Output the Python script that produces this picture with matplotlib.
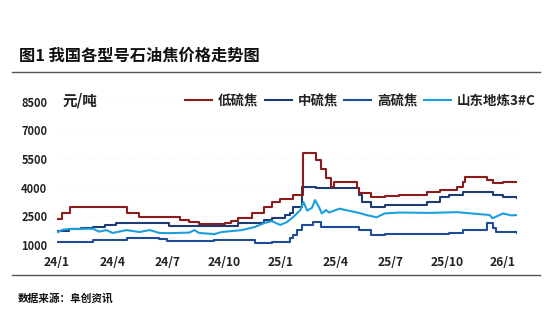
import matplotlib.pyplot as plt
import matplotlib.lines as mlines
import pandas as pd

# ── 字体 ─────────────────────────────────────────────
plt.rcParams['font.family'] = ['Noto Sans CJK SC', 'DejaVu Sans']
plt.rcParams['axes.unicode_minus'] = False

# ── 数据（从原图估读，单位：元/吨）──────────────────────
low_dates = ['2024-01-01', '2024-01-09', '2024-01-22', '2024-04-24', '2024-05-15',
             '2024-07-20', '2024-08-05', '2024-08-21', '2024-10-02', '2024-10-13',
             '2024-10-23', '2024-11-15', '2024-12-06', '2024-12-18', '2025-01-01',
             '2025-01-22', '2025-02-08', '2025-03-01', '2025-03-09', '2025-03-17',
             '2025-03-25', '2025-03-30', '2025-05-02', '2025-05-07', '2025-05-10',
             '2025-05-30', '2025-06-21', '2025-07-15', '2025-08-29', '2025-09-19',
             '2025-10-17', '2025-10-27', '2025-10-30', '2025-12-06', '2025-12-15',
             '2026-01-01', '2026-01-24']
low_vals = [2350, 2650, 3000, 2700, 2450,
            2300, 2200, 2100, 2150, 2250,
            2400, 2650, 3000, 3250, 3400,
            3600, 5800, 5450, 5000, 4500,
            4050, 4300, 4300, 4000, 3700,
            3500, 3550, 3600, 3750, 3900,
            4050, 4300, 4550, 4400, 4250,
            4300, 4300]

mid_dates = ['2024-01-01', '2024-01-20', '2024-02-10', '2024-02-29', '2024-03-20',
             '2024-04-07', '2024-07-03', '2024-10-23', '2024-12-06', '2024-12-18',
             '2025-01-09', '2025-01-17', '2025-01-22', '2025-02-06', '2025-03-01',
             '2025-05-02', '2025-05-10', '2025-05-15', '2025-05-30', '2025-06-21',
             '2025-08-29', '2025-09-19', '2025-10-05', '2025-10-27', '2025-12-06',
             '2025-12-15', '2026-01-01', '2026-01-24']
mid_vals = [1750, 1820, 1880, 1950, 2050,
            2150, 2000, 2150, 2300, 2400,
            2550, 2650, 3000, 4050, 4000,
            4000, 3600, 3250, 3000, 3100,
            3250, 3500, 3600, 3770, 3770,
            3600, 3500, 3450]

high_dates = ['2024-01-01', '2024-02-29', '2024-04-24', '2024-06-17', '2024-06-30',
              '2024-09-15', '2024-11-20', '2024-12-18', '2025-01-17', '2025-01-22',
              '2025-01-29', '2025-02-06', '2025-02-24', '2025-03-09', '2025-05-07',
              '2025-05-10', '2025-05-30', '2025-06-21', '2025-08-29', '2025-10-05',
              '2025-10-27', '2025-12-06', '2025-12-15', '2025-12-21', '2026-01-24']
high_vals = [1180, 1260, 1380, 1300, 1200,
             1250, 1100, 1160, 1370, 1520,
             1780, 2050, 2200, 1950, 1950,
             1780, 1520, 1580, 1560, 1630,
             1780, 2150, 1900, 1680, 1650]

sd_dates = ['2024-01-01', '2024-01-10', '2024-01-22', '2024-02-29', '2024-03-10',
            '2024-03-22', '2024-04-01', '2024-04-24', '2024-05-15', '2024-06-01',
            '2024-06-17', '2024-07-03', '2024-08-05', '2024-08-13', '2024-08-21',
            '2024-09-15', '2024-09-27', '2024-10-30', '2024-11-20', '2024-12-06',
            '2024-12-18', '2025-01-01', '2025-01-12', '2025-01-22', '2025-02-03',
            '2025-02-08', '2025-02-14', '2025-02-22', '2025-02-27', '2025-03-06',
            '2025-03-10', '2025-03-17', '2025-03-22', '2025-04-08', '2025-05-10',
            '2025-05-22', '2025-06-08', '2025-06-21', '2025-07-15', '2025-09-03',
            '2025-10-17', '2025-12-10', '2025-12-15', '2026-01-01', '2026-01-15',
            '2026-01-24']
sd_vals = [1650, 1800, 1840, 1850, 1700,
           1780, 1630, 1780, 1680, 1780,
           1630, 1620, 1650, 1780, 1630,
           1570, 1680, 1780, 1940, 2150,
           2250, 2050, 2200, 2460, 2830,
           3250, 2800, 2950, 3350, 2950,
           2650, 2830, 2700, 2900, 2680,
           2570, 2450, 2650, 2700, 2680,
           2720, 2570, 2400, 2650, 2550,
           2570]

series_names = ['低硫焦', '中硫焦', '高硫焦', '山东地炼3#C']
x_tick_dates = ['2024-01-01', '2024-04-01', '2024-07-01', '2024-10-01', '2025-01-01',
                '2025-04-01', '2025-07-01', '2025-10-01', '2026-01-01']
x_tick_labels = ['24/1', '24/4', '24/7', '24/10', '25/1', '25/4', '25/7', '25/10', '26/1']
y_ticks = [1000, 2500, 4000, 5500, 7000, 8500]

# ── 颜色 ─────────────────────────────────────────────
C_LOW = '#8B1C1C'
C_MID = '#1E3C74'
C_HIGH = '#1F4C96'
C_SD = '#1C9FDF'
TXT = '#222222'

# ── 画布 ─────────────────────────────────────────────
fig = plt.figure(figsize=(5.5, 3.36), dpi=100)
ax = fig.add_axes([57 / 550, 91 / 336, 460 / 550, 143.3 / 336])

lw = 1.5
ax.plot(pd.to_datetime(high_dates), high_vals, color=C_HIGH, lw=lw, drawstyle='steps-post', zorder=3)
ax.plot(pd.to_datetime(mid_dates), mid_vals, color=C_MID, lw=lw, drawstyle='steps-post', zorder=3)
ax.plot(pd.to_datetime(sd_dates), sd_vals, color=C_SD, lw=lw, zorder=4)
ax.plot(pd.to_datetime(low_dates), low_vals, color=C_LOW, lw=lw, drawstyle='steps-post', zorder=5)

ax.set_xlim(pd.Timestamp('2024-01-01'), pd.Timestamp('2026-01-24'))
ax.set_ylim(1000, 8500)
ax.set_yticks(y_ticks)
ax.set_yticklabels([str(v) for v in y_ticks], fontsize=8, color=TXT, fontweight='bold')
ax.set_xticks(pd.to_datetime(x_tick_dates))
ax.set_xticklabels(x_tick_labels, fontsize=8.7, color=TXT, fontweight='bold')
ax.tick_params(axis='y', length=0, pad=7)
ax.tick_params(axis='x', length=0, pad=8)
for s in ax.spines.values():
    s.set_visible(False)
ax.yaxis.grid(True, color='#F2F2F2', lw=0.6, ls=':')
ax.set_axisbelow(True)

# ── 文字 ─────────────────────────────────────────────
fig.text(19 / 550, 1 - 56 / 336, '图1 我国各型号石油焦价格走势图', fontsize=11.7,
         fontweight='bold', color='#111111', ha='left', va='center')
fig.add_artist(mlines.Line2D([12 / 550, 540 / 550], [1 - 72 / 336] * 2,
                             color='#555555', lw=1.0))
fig.add_artist(mlines.Line2D([12 / 550, 540 / 550], [1 - 275 / 336] * 2,
                             color='#555555', lw=1.0))
fig.text(18 / 550, 1 - 298 / 336, '数据来源：阜创资讯', fontsize=7.7,
         fontweight='bold', color='#111111', ha='left', va='center')
fig.text(63 / 550, 1 - 101 / 336, '元/吨', fontsize=10.5, fontweight='bold',
         color=TXT, ha='left', va='center')

# ── 图例 ─────────────────────────────────────────────
handles = [mlines.Line2D([0], [0], color=c, lw=1.5) for c in [C_LOW, C_MID, C_HIGH, C_SD]]
leg = fig.legend(handles, series_names, loc='center left', bbox_to_anchor=(185 / 550, 1 - 101 / 336),
                 ncol=4, frameon=False, handlelength=2.0, handletextpad=0.45,
                 columnspacing=0.45, borderaxespad=0, borderpad=0,
                 prop={'family': ['Noto Sans CJK SC', 'DejaVu Sans'], 'weight': 'bold', 'size': 9.7})
for t in leg.get_texts():
    t.set_color(TXT)

fig.savefig('out.png', dpi=100, facecolor='white')
